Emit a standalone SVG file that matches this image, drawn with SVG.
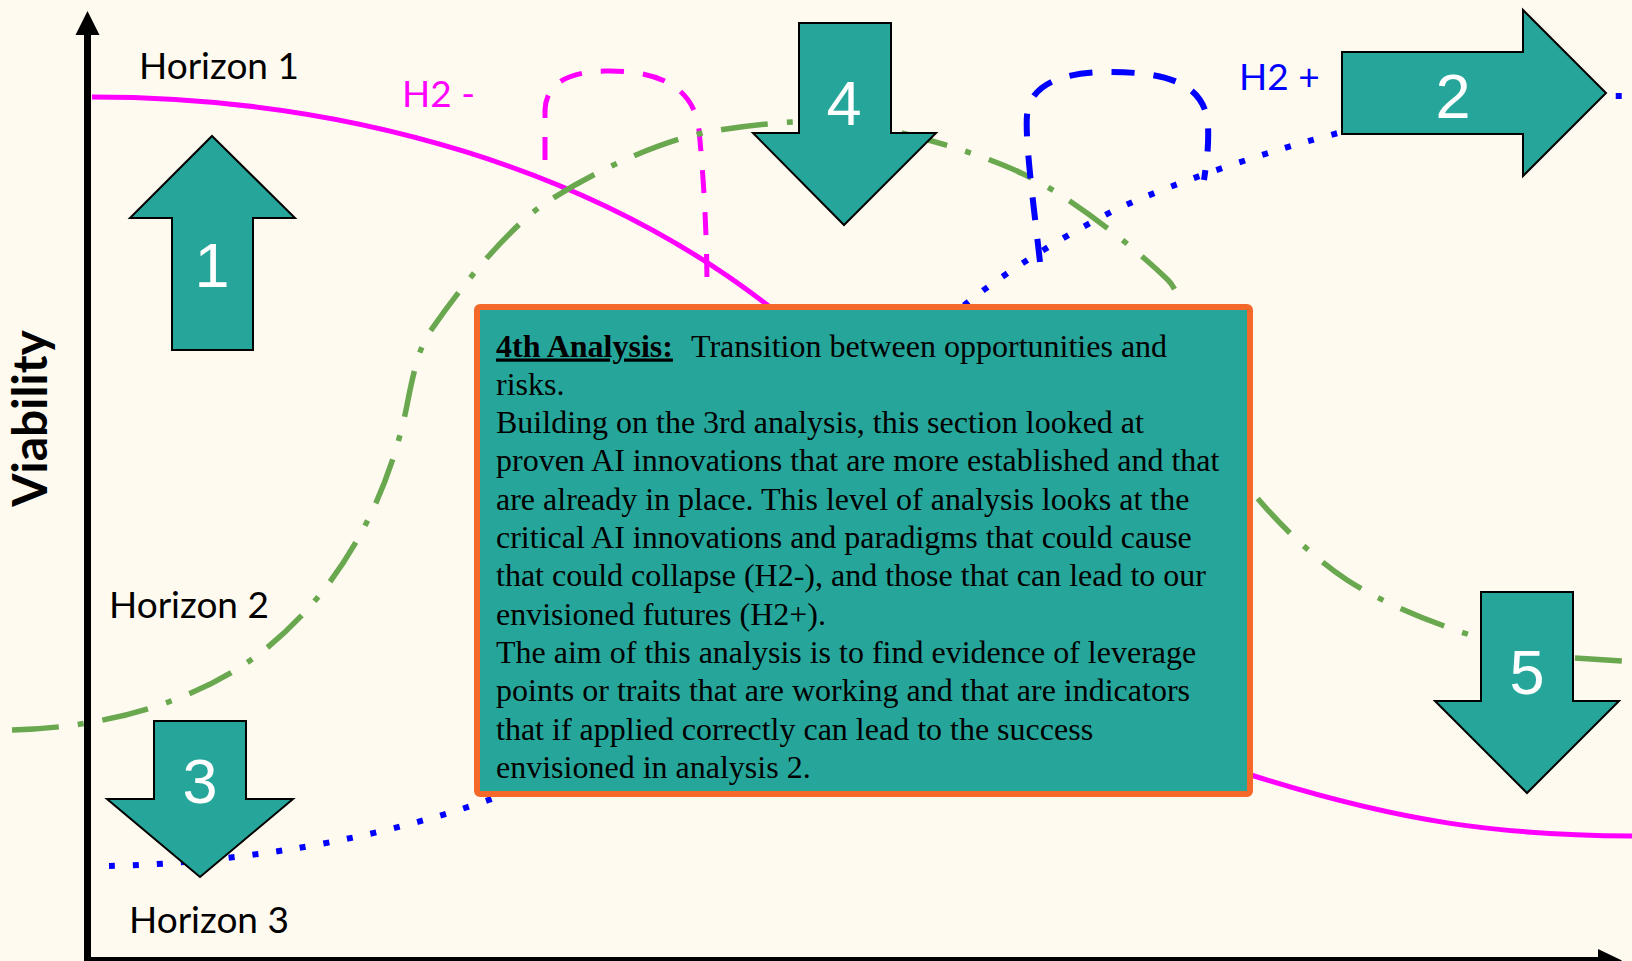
<svg xmlns="http://www.w3.org/2000/svg" width="1632" height="961" viewBox="0 0 1632 961">
  <style>
    .lbl { font-family: Lato, "Open Sans", sans-serif; font-size: 37px; }
    .ylbl { font-family: Lato, "Open Sans", sans-serif; font-size: 48px; font-weight: bold; text-anchor: middle; }
    .num { font-family: "Liberation Sans", Arial, sans-serif; font-size: 63px; fill: #FFFFFF; text-anchor: middle; }
    .blk { fill: #26A69A; stroke: #000000; stroke-width: 2; stroke-linejoin: miter; }
    .body { font-family: "Liberation Serif", "Times New Roman", serif; font-size: 32px; fill: #000000; }
    .axis { stroke: #000000; stroke-width: 7; fill: none; }
  </style>

  <!-- background -->
  <rect x="0" y="0" width="1632" height="961" fill="#FFFAF0"/>

  <!-- curves -->
  <g id="connectors" fill="none">
    <!-- Horizon 1: declining solid curve -->
    <path id="h1-curve" d="M92,97 C350,97 600,170 780,315 C960,460 1080,720 1251,775 C1400,822 1500,836 1640,836" stroke="#FF00FF" stroke-width="5"/>
    <!-- H2 minus loop -->
    <path id="h2-minus" d="M545,160 L545,110 C546,85 565,72 605,71 C655,70 694,85 699,130 C703,170 707,230 707,290" stroke="#FF00FF" stroke-width="5" stroke-dasharray="23 19"/>
    <!-- Horizon 2: rise and fall dash-dot curve -->
    <path id="h2-curve" d="M12,730 C100,728 198,704 268,647 C358,573 395,470 408,400 C413,375 419,348 429,333 C469,275 515,222 550,200 C600,168 669,137 719,130 C752,125 790,121 820,121 C880,121 985,155 1021,173 C1066,193 1133,246 1168,280 C1193,305 1228,463 1253,493 C1283,529 1317,560 1347,580 C1407,619 1520,655 1573,658 L1640,662" stroke="#6AA84F" stroke-width="5.5" stroke-dasharray="47 19 6 19"/>
    <!-- Horizon 3 / H2 plus rising dotted curve -->
    <path id="h3-curve" d="M109,866 C200,864 350,850 500,796 C650,750 818,420 968,302 C1015,265 1075,230 1115,210 C1175,182 1272,150 1342,132 C1420,112 1520,97 1606,96 L1640,96" stroke="#0000FF" stroke-width="6" stroke-dasharray="6 18"/>
    <!-- H2 plus loop -->
    <path id="h2-plus" d="M1040,262 C1033,200 1025,140 1027,115 C1030,85 1060,72 1110,72 C1170,72 1205,85 1208,125 C1209,150 1206,165 1204,180" stroke="#0000FF" stroke-width="6" stroke-dasharray="23 19"/>
  </g>

  <!-- axes -->
  <g id="axes">
    <line class="axis" x1="87.5" y1="30" x2="87.5" y2="961"/>
    <polygon points="87.5,11 99.5,35 75.5,35" fill="#000000"/>
    <line class="axis" x1="84" y1="960.5" x2="1600" y2="960.5"/>
    <polygon points="1622,960.5 1598,949 1598,972" fill="#000000"/>
  </g>

  <!-- axis and horizon labels -->
  <g id="labels">
    <text class="ylbl" x="0" y="0" transform="translate(47,418.5) rotate(-90)">Viability</text>
    <text class="lbl" x="139" y="79">Horizon 1</text>
    <text class="lbl" x="109" y="618">Horizon 2</text>
    <text class="lbl" x="129" y="933">Horizon 3</text>
    <text class="lbl" x="402" y="107" fill="#FF00FF">H2 -</text>
    <text class="lbl" x="1239" y="90" fill="#0000FF">H2 +</text>
  </g>

  <!-- numbered block arrows -->
  <g id="arrow-1">
    <polygon class="blk" points="212,136 295,218 253,218 253,350 172,350 172,218 130,218"/>
    <text class="num" x="212" y="287">1</text>
  </g>
  <g id="arrow-2">
    <polygon class="blk" points="1342,52 1523,52 1523,10 1606,93 1523,176 1523,134 1342,134"/>
    <text class="num" x="1453" y="118">2</text>
  </g>
  <g id="arrow-3">
    <polygon class="blk" points="154,721 246,721 246,799 293,799 200,877 107,799 154,799"/>
    <text class="num" x="200" y="803">3</text>
  </g>
  <g id="arrow-4">
    <polygon class="blk" points="799,23 891,23 891,133 936,133 844,225 753,133 799,133"/>
    <text class="num" x="844" y="125">4</text>
  </g>
  <g id="arrow-5">
    <polygon class="blk" points="1481,592 1573,592 1573,701 1619,701 1527,793 1435,701 1481,701"/>
    <text class="num" x="1527" y="694">5</text>
  </g>

  <!-- analysis note -->
  <g id="analysis-note">
    <rect x="477" y="307" width="773" height="487" rx="3" fill="#26A69A" stroke="#F4692A" stroke-width="6"/>
    <text class="body">
      <tspan x="496" y="356.5"><tspan font-weight="bold" text-decoration="underline">4th Analysis:</tspan></tspan>
      <tspan x="691" y="356.5">Transition between opportunities and</tspan>
      <tspan x="496" y="394.8">risks.</tspan>
      <tspan x="496" y="433.1">Building on the 3rd analysis, this section looked at</tspan>
      <tspan x="496" y="471.4">proven AI innovations that are more established and that</tspan>
      <tspan x="496" y="509.7">are already in place. This level of analysis looks at the</tspan>
      <tspan x="496" y="548">critical AI innovations and paradigms that could cause</tspan>
      <tspan x="496" y="586.3">that could collapse (H2-), and those that can lead to our</tspan>
      <tspan x="496" y="624.6">envisioned futures (H2+).</tspan>
      <tspan x="496" y="662.9">The aim of this analysis is to find evidence of leverage</tspan>
      <tspan x="496" y="701.2">points or traits that are working and that are indicators</tspan>
      <tspan x="496" y="739.5">that if applied correctly can lead to the success</tspan>
      <tspan x="496" y="777.8">envisioned in analysis 2.</tspan>
    </text>
  </g>
</svg>
